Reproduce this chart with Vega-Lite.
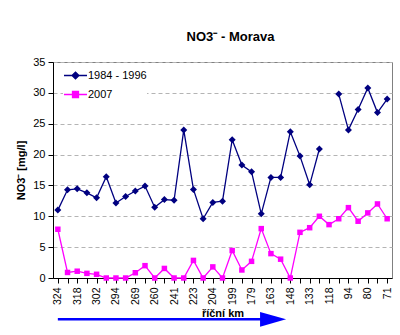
{
  "$schema": "https://vega.github.io/schema/vega-lite/v6.json",
  "width": 339,
  "height": 216,
  "autosize": {"type": "none"},
  "padding": {"left": 53, "top": 62, "right": 8, "bottom": 57},
  "background": "white",
  "config": {
    "font": "Liberation Sans",
    "view": {"stroke": "#808080", "strokeWidth": 1},
    "axisY": {
      "titleFontSize": 11,
      "titleFontWeight": "bold",
      "titleColor": "black",
      "titlePadding": 6,
      "labelOverlap": false,
      "labelFontSize": 11,
      "labelColor": "black",
      "labelPadding": 3,
      "tickSize": 5,
      "tickColor": "black",
      "domainColor": "black",
      "grid": true,
      "gridColor": "#b4b4b4",
      "gridDash": [4, 3],
      "gridWidth": 1
    },
    "axisX": {
      "titleFontSize": 11,
      "titleFontWeight": "bold",
      "titleColor": "black",
      "titlePadding": 3,
      "labelAngle": -90,
      "labelFontSize": 10.5,
      "labelColor": "black",
      "labelPadding": 4,
      "labelOverlap": false,
      "tickSize": 5,
      "tickColor": "black",
      "domainColor": "black",
      "grid": false
    }
  },
  "title": {
    "text": "NO3⁻ - Morava",
    "fontSize": 13,
    "fontWeight": "bold",
    "color": "black",
    "anchor": "middle",
    "offset": 12,
    "dx": 8
  },
  "datasets": {
    "no3": [
      {"km": "324", "series": "1984 - 1996", "value": 11.0},
      {"km": "321", "series": "1984 - 1996", "value": 14.3},
      {"km": "318", "series": "1984 - 1996", "value": 14.45},
      {"km": "310", "series": "1984 - 1996", "value": 13.8},
      {"km": "302", "series": "1984 - 1996", "value": 13.0},
      {"km": "298", "series": "1984 - 1996", "value": 16.4},
      {"km": "294", "series": "1984 - 1996", "value": 12.15},
      {"km": "282", "series": "1984 - 1996", "value": 13.2},
      {"km": "269", "series": "1984 - 1996", "value": 14.1},
      {"km": "265", "series": "1984 - 1996", "value": 14.9},
      {"km": "260", "series": "1984 - 1996", "value": 11.45},
      {"km": "251", "series": "1984 - 1996", "value": 12.7},
      {"km": "241", "series": "1984 - 1996", "value": 12.6},
      {"km": "232", "series": "1984 - 1996", "value": 24.0},
      {"km": "223", "series": "1984 - 1996", "value": 14.35},
      {"km": "214", "series": "1984 - 1996", "value": 9.6},
      {"km": "204", "series": "1984 - 1996", "value": 12.25},
      {"km": "202", "series": "1984 - 1996", "value": 12.45},
      {"km": "199", "series": "1984 - 1996", "value": 22.4},
      {"km": "189", "series": "1984 - 1996", "value": 18.3},
      {"km": "179", "series": "1984 - 1996", "value": 17.2},
      {"km": "171", "series": "1984 - 1996", "value": 10.4},
      {"km": "163", "series": "1984 - 1996", "value": 16.3},
      {"km": "155", "series": "1984 - 1996", "value": 16.3},
      {"km": "148", "series": "1984 - 1996", "value": 23.7},
      {"km": "140", "series": "1984 - 1996", "value": 19.75},
      {"km": "133", "series": "1984 - 1996", "value": 15.1},
      {"km": "125", "series": "1984 - 1996", "value": 20.9},
      {"km": "118", "series": "1984 - 1996", "value": null},
      {"km": "106", "series": "1984 - 1996", "value": 29.8},
      {"km": "94", "series": "1984 - 1996", "value": 24.0},
      {"km": "87", "series": "1984 - 1996", "value": 27.3},
      {"km": "80", "series": "1984 - 1996", "value": 30.8},
      {"km": "75", "series": "1984 - 1996", "value": 26.8},
      {"km": "71", "series": "1984 - 1996", "value": 29.0},
      {"km": "324", "series": "2007", "value": 7.9},
      {"km": "321", "series": "2007", "value": 0.9},
      {"km": "318", "series": "2007", "value": 1.1},
      {"km": "310", "series": "2007", "value": 0.75},
      {"km": "302", "series": "2007", "value": 0.6},
      {"km": "298", "series": "2007", "value": 0},
      {"km": "294", "series": "2007", "value": 0},
      {"km": "282", "series": "2007", "value": 0},
      {"km": "269", "series": "2007", "value": 0.85},
      {"km": "265", "series": "2007", "value": 2.0},
      {"km": "260", "series": "2007", "value": 0},
      {"km": "251", "series": "2007", "value": 1.55},
      {"km": "241", "series": "2007", "value": 0},
      {"km": "232", "series": "2007", "value": 0},
      {"km": "223", "series": "2007", "value": 2.85},
      {"km": "214", "series": "2007", "value": 0},
      {"km": "204", "series": "2007", "value": 1.8},
      {"km": "202", "series": "2007", "value": 0},
      {"km": "199", "series": "2007", "value": 4.45},
      {"km": "189", "series": "2007", "value": 1.3},
      {"km": "179", "series": "2007", "value": 2.7},
      {"km": "171", "series": "2007", "value": 8.0},
      {"km": "163", "series": "2007", "value": 3.95},
      {"km": "155", "series": "2007", "value": 3.05},
      {"km": "148", "series": "2007", "value": 0},
      {"km": "140", "series": "2007", "value": 7.4},
      {"km": "133", "series": "2007", "value": 8.15},
      {"km": "125", "series": "2007", "value": 10.0},
      {"km": "118", "series": "2007", "value": 8.65},
      {"km": "106", "series": "2007", "value": 9.6},
      {"km": "94", "series": "2007", "value": 11.4},
      {"km": "87", "series": "2007", "value": 9.2},
      {"km": "80", "series": "2007", "value": 10.55},
      {"km": "75", "series": "2007", "value": 12.0},
      {"km": "71", "series": "2007", "value": 9.6}
    ],
    "arrow": [
      {"start": "324", "end": "163", "head": "155"}
    ]
  },
  "layer": [
    {
      "data": {"name": "no3"},
      "mark": {"type": "line", "strokeWidth": 1.3, "invalid": "break-paths-show-domains"},
      "encoding": {
        "x": {
          "field": "km",
          "type": "ordinal",
          "scale": {
            "type": "point",
            "padding": 0.5,
            "domain": ["324","321","318","310","302","298","294","282","269","265","260","251","241","232","223","214","204","202","199","189","179","171","163","155","148","140","133","125","118","106","94","87","80","75","71"]
          },
          "axis": {
            "title": "říční km",
            "labelExpr": "indexof(['324','318','302','294','269','260','241','223','204','199','179','163','148','133','118','94','80','71'], datum.value) >= 0 ? datum.value : ''"
          }
        },
        "y": {
          "field": "value",
          "type": "quantitative",
          "scale": {"domain": [0, 35], "nice": false},
          "axis": {
            "title": "NO3⁻ [mg/l]",
            "values": [0, 5, 10, 15, 20, 25, 30, 35]
          }
        },
        "color": {
          "field": "series",
          "type": "nominal",
          "scale": {"domain": ["1984 - 1996", "2007"], "range": ["#000080", "#ff00ff"]},
          "legend": {
            "title": null,
            "orient": "none",
            "legendX": 10,
            "legendY": 1,
            "fillColor": "white",
            "padding": 0,
            "labelFontSize": 11,
            "labelColor": "black",
            "labelOffset": 0,
            "rowPadding": -7,
            "symbolSize": 529,
            "symbolStrokeWidth": 1.3,
            "encode": {
              "symbols": {
                "update": {
                  "shape": {"signal": "datum.value === '2007' ? 'M-1,0L1,0M-0.26,-0.26L0.26,-0.26L0.26,0.26L-0.26,0.26Z' : 'M-1,0L1,0M-0.3,0L0,-0.3L0.3,0L0,0.3Z'"},
                  "stroke": {"signal": "datum.value === '2007' ? '#ff00ff' : '#000080'"},
                  "fill": {"signal": "datum.value === '2007' ? '#ff00ff' : '#000080'"},
                  "size": {"value": 529},
                  "strokeWidth": {"value": 1.3},
                  "opacity": {"value": 1}
                }
              }
            }
          }
        }
      }
    },
    {
      "data": {"name": "no3"},
      "transform": [{"filter": "datum.series === '1984 - 1996'"}],
      "mark": {"type": "point", "filled": true, "opacity": 1, "shape": "diamond", "size": 49, "color": "#000080"},
      "encoding": {
        "x": {
          "field": "km",
          "type": "ordinal",
          "axis": {
            "title": "říční km",
            "labelExpr": "indexof(['324','318','302','294','269','260','241','223','204','199','179','163','148','133','118','94','80','71'], datum.value) >= 0 ? datum.value : ''"
          }
        },
        "y": {
          "field": "value",
          "type": "quantitative",
          "axis": {
            "title": "NO3⁻ [mg/l]",
            "values": [0, 5, 10, 15, 20, 25, 30, 35]
          }
        }
      }
    },
    {
      "data": {"name": "no3"},
      "transform": [{"filter": "datum.series === '2007'"}],
      "mark": {"type": "point", "filled": true, "opacity": 1, "shape": "square", "size": 30, "color": "#ff00ff"},
      "encoding": {
        "x": {
          "field": "km",
          "type": "ordinal",
          "axis": {
            "title": "říční km",
            "labelExpr": "indexof(['324','318','302','294','269','260','241','223','204','199','179','163','148','133','118','94','80','71'], datum.value) >= 0 ? datum.value : ''"
          }
        },
        "y": {
          "field": "value",
          "type": "quantitative",
          "axis": {
            "title": "NO3⁻ [mg/l]",
            "values": [0, 5, 10, 15, 20, 25, 30, 35]
          }
        }
      }
    },
    {
      "data": {"name": "arrow"},
      "mark": {"type": "rule", "color": "#0000ff", "strokeWidth": 2.5},
      "encoding": {
        "x": {
          "field": "start",
          "type": "ordinal",
          "axis": {
            "title": "říční km",
            "labelExpr": "indexof(['324','318','302','294','269','260','241','223','204','199','179','163','148','133','118','94','80','71'], datum.value) >= 0 ? datum.value : ''"
          }
        },
        "x2": {"field": "end"},
        "y": {
          "datum": -6.7,
          "type": "quantitative",
          "axis": {
            "title": "NO3⁻ [mg/l]",
            "values": [0, 5, 10, 15, 20, 25, 30, 35]
          }
        }
      }
    },
    {
      "data": {"name": "arrow"},
      "mark": {"type": "point", "filled": true, "opacity": 1, "color": "#0000ff", "size": 676, "shape": "M-1.58,-0.56L0.42,0L-1.58,0.56Z"},
      "encoding": {
        "x": {
          "field": "head",
          "type": "ordinal",
          "axis": {
            "title": "říční km",
            "labelExpr": "indexof(['324','318','302','294','269','260','241','223','204','199','179','163','148','133','118','94','80','71'], datum.value) >= 0 ? datum.value : ''"
          }
        },
        "y": {
          "datum": -6.7,
          "type": "quantitative",
          "axis": {
            "title": "NO3⁻ [mg/l]",
            "values": [0, 5, 10, 15, 20, 25, 30, 35]
          }
        }
      }
    }
  ]
}
